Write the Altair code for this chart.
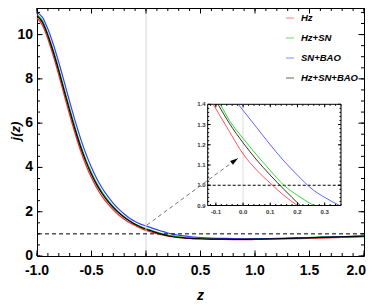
import altair as alt
import pandas as pd

# ---------------- data ----------------
series_names = ["Hz", "Hz+SN", "SN+BAO", "Hz+SN+BAO"]
series_colors = ["#ff2a2a", "#00cc00", "#3a3aff", "#000000"]
series_widths = [1.2, 1.2, 1.2, 1.7]

z_main = [-1.0, -0.95, -0.9, -0.85, -0.8, -0.75, -0.7, -0.65, -0.6, -0.55,
          -0.5, -0.45, -0.4, -0.35, -0.3, -0.25, -0.2, -0.15, -0.1, -0.05,
          0.0, 0.05, 0.1, 0.15, 0.2, 0.25, 0.3, 0.35, 0.4, 0.5,
          0.6, 0.7, 0.8, 0.9, 1.0, 1.2, 1.4, 1.6, 1.8, 2.0]
j_hz = [10.75, 10.42, 9.8, 9.03, 8.17, 7.26, 6.36, 5.52, 4.75, 4.09,
        3.53, 3.06, 2.67, 2.35, 2.08, 1.85, 1.66, 1.5, 1.38, 1.26,
        1.155, 1.08, 1.01, 0.95, 0.9, 0.86, 0.83, 0.805, 0.79, 0.77,
        0.755, 0.745, 0.74, 0.74, 0.745, 0.76, 0.785, 0.81, 0.84, 0.87]
j_hz_sn = [10.9, 10.62, 10.02, 9.28, 8.44, 7.54, 6.65, 5.8, 5.02, 4.34,
           3.76, 3.27, 2.86, 2.52, 2.23, 1.98, 1.77, 1.59, 1.44, 1.33,
           1.235, 1.155, 1.075, 1.0, 0.945, 0.905, 0.87, 0.845, 0.825, 0.795,
           0.78, 0.77, 0.765, 0.765, 0.77, 0.79, 0.82, 0.85, 0.875, 0.9]
j_sn_bao = [11.0, 10.78, 10.25, 9.55, 8.74, 7.86, 6.96, 6.1, 5.3, 4.6,
            4.0, 3.48, 3.05, 2.69, 2.38, 2.12, 1.9, 1.71, 1.56, 1.44,
            1.36, 1.27, 1.19, 1.11, 1.04, 0.98, 0.94, 0.905, 0.875, 0.835,
            0.81, 0.795, 0.785, 0.78, 0.78, 0.795, 0.815, 0.84, 0.865, 0.89]
j_all = [10.85, 10.55, 9.95, 9.2, 8.35, 7.45, 6.55, 5.7, 4.92, 4.25,
         3.68, 3.2, 2.8, 2.47, 2.19, 1.95, 1.75, 1.58, 1.43, 1.31,
         1.21, 1.13, 1.05, 0.98, 0.915, 0.87, 0.84, 0.815, 0.8, 0.78,
         0.765, 0.76, 0.755, 0.755, 0.76, 0.78, 0.81, 0.84, 0.87, 0.9]

# inset curves (zoomed view)
inz_hz = [-0.11, -0.05, 0.0, 0.05, 0.1, 0.15, 0.2]
inj_hz = [1.4, 1.265, 1.155, 1.075, 1.01, 0.95, 0.9]
inz_hz_sn = [-0.083, -0.05, 0.0, 0.05, 0.1, 0.15, 0.2, 0.26]
inj_hz_sn = [1.4, 1.32, 1.232, 1.15, 1.073, 1.0, 0.95, 0.9]
inz_sn_bao = [-0.018, 0.0, 0.05, 0.1, 0.15, 0.2, 0.25, 0.3, 0.355]
inj_sn_bao = [1.4, 1.37, 1.285, 1.2, 1.12, 1.05, 0.985, 0.94, 0.9]
inz_all = [-0.092, -0.05, 0.0, 0.05, 0.1, 0.15, 0.21]
inj_all = [1.4, 1.305, 1.21, 1.125, 1.05, 0.98, 0.9]

# axes / ticks
x_domain = [-1.0, 2.0]
y_domain = [0.0, 11.2]
x_labels = [-1.0, -0.5, 0.0, 0.5, 1.0, 1.5, 2.0]
x_text = ["-1.0", "-0.5", "0.0", "0.5", "1.0", "1.5", "2.0"]
y_labels = [0, 2, 4, 6, 8, 10]
y_text = ["0", "2", "4", "6", "8", "10"]
x_minor = [round(-1.0 + 0.1 * i, 2) for i in range(31)]
y_minor = [round(0.5 * i, 2) for i in range(23)]
x_title = "z"
y_title = "j(z)"

in_x_domain = [-0.13, 0.36]
in_y_domain = [0.9, 1.4]
in_x_labels = [-0.1, 0.0, 0.1, 0.2, 0.3]
in_x_text = ["-0.1", "0.0", "0.1", "0.2", "0.3"]
in_y_labels = [0.9, 1.0, 1.1, 1.2, 1.3, 1.4]
in_y_text = ["0.9", "1.0", "1.1", "1.2", "1.3", "1.4"]
in_x_minor = [round(-0.12 + 0.02 * i, 2) for i in range(25)]
in_y_minor = [round(0.92 + 0.02 * i, 2) for i in range(24)]

ref_j = [1.0]
ref_z = [0.0]
arrow_z = [0.009, 0.844]
arrow_j = [1.40, 4.42]

# ---------------- layout ----------------
W, H = 327, 248
IX0, IX1 = 170.7, 304.0
IYB, IYT = 197.5, 96.3
FONT = "Liberation Sans"

xs = alt.Scale(domain=x_domain, nice=False, zero=False)
ys = alt.Scale(domain=y_domain, nice=False, zero=False)
xi = alt.Scale(domain=in_x_domain, range=[IX0, IX1], nice=False, zero=False)
yi = alt.Scale(domain=in_y_domain, range=[IYB, IYT], nice=False, zero=False)
cscale = alt.Scale(domain=series_names, range=series_colors)

rows = []
for name, vals in zip(series_names, [j_hz, j_hz_sn, j_sn_bao, j_all]):
    for z, j in zip(z_main, vals):
        rows.append({"model": name, "z": z, "j": j})
df = pd.DataFrame(rows)

irows = []
for name, zz, jj in zip(series_names,
                        [inz_hz, inz_hz_sn, inz_sn_bao, inz_all],
                        [inj_hz, inj_hz_sn, inj_sn_bao, inj_all]):
    for z, j in zip(zz, jj):
        irows.append({"model": name, "z": z, "j": j})
idf = pd.DataFrame(irows)

lines = alt.Chart(df).mark_line(interpolate="monotone").encode(
    x=alt.X("z:Q", scale=xs, axis=None),
    y=alt.Y("j:Q", scale=ys, axis=None),
    color=alt.Color("model:N", scale=cscale,
                    legend=alt.Legend(orient="none", legendX=248, legendY=5, title=None,
                                      symbolType="stroke", symbolSize=64,
                                      symbolStrokeWidth=1, symbolOpacity=0.5,
                                      labelFont=FONT, labelFontStyle="italic",
                                      labelFontWeight="bold", labelFontSize=9.5,
                                      labelColor="black", labelOffset=6,
                                      rowPadding=10, padding=0)),
    strokeWidth=alt.StrokeWidth("model:N",
                                scale=alt.Scale(domain=series_names, range=series_widths),
                                legend=None),
)

ref_line = alt.Chart(pd.DataFrame({"j": ref_j})).mark_rule(
    color="black", strokeDash=[4, 3], strokeWidth=1).encode(
    y=alt.Y("j:Q", scale=ys, axis=None))
zero_line = alt.Chart(pd.DataFrame({"z": ref_z})).mark_rule(
    color="#d6d6d6", strokeWidth=1).encode(
    x=alt.X("z:Q", scale=xs, axis=None))

# axis labels and titles as text marks (last x label kept inside the page)
xlab = alt.Chart(pd.DataFrame({"v": x_labels[:-1], "t": x_text[:-1]})).mark_text(
    font=FONT, fontSize=14, fontWeight="bold", color="black", baseline="top").encode(
    x=alt.X("v:Q", scale=xs, axis=None), y=alt.value(H + 8), text="t:N")
xlab_last = alt.Chart(pd.DataFrame({"v": x_labels[-1:], "t": x_text[-1:]})).mark_text(
    font=FONT, fontSize=14, fontWeight="bold", color="black", baseline="top",
    align="right", dx=2).encode(
    x=alt.value(W), y=alt.value(H + 8), text="t:N")
ylab = alt.Chart(pd.DataFrame({"v": y_labels, "t": y_text})).mark_text(
    font=FONT, fontSize=14, fontWeight="bold", color="black", align="right",
    baseline="middle").encode(
    y=alt.Y("v:Q", scale=ys, axis=None), x=alt.value(-4), text="t:N")
xtit = alt.Chart(pd.DataFrame({"t": [x_title]})).mark_text(
    font=FONT, fontSize=14, fontWeight="bold", fontStyle="italic", color="black",
    baseline="middle").encode(
    x=alt.value(W / 2), y=alt.value(H + 40), text="t:N")
ytit = alt.Chart(pd.DataFrame({"t": [y_title]})).mark_text(
    font=FONT, fontSize=13, fontWeight="bold", fontStyle="italic", color="black",
    baseline="middle", angle=270).encode(
    x=alt.value(-21), y=alt.value(H / 2 - 1), text="t:N")


def xticks(vals, L, xscale, ybot, ytop):
    d = pd.DataFrame({"v": vals})
    b = alt.Chart(d).mark_rule(color="black", strokeWidth=1).encode(
        x=alt.X("v:Q", scale=xscale, axis=None),
        y=alt.value(ybot), y2=alt.value(ybot - L))
    t = alt.Chart(d).mark_rule(color="black", strokeWidth=1).encode(
        x=alt.X("v:Q", scale=xscale, axis=None),
        y=alt.value(ytop), y2=alt.value(ytop + L))
    return [b, t]


def yticks(vals, L, yscale, xl, xr):
    d = pd.DataFrame({"v": vals})
    l = alt.Chart(d).mark_rule(color="black", strokeWidth=1).encode(
        y=alt.Y("v:Q", scale=yscale, axis=None),
        x=alt.value(xl), x2=alt.value(xl + L))
    r = alt.Chart(d).mark_rule(color="black", strokeWidth=1).encode(
        y=alt.Y("v:Q", scale=yscale, axis=None),
        x=alt.value(xr), x2=alt.value(xr - L))
    return [l, r]


main_ticks = (xticks(x_minor, 3, xs, H, 0) + xticks(x_labels, 5.5, xs, H, 0)
              + yticks(y_minor, 3, ys, 0, W) + yticks(y_labels, 5.5, ys, 0, W))

main = alt.layer(lines, zero_line, ref_line, xlab, xlab_last, ylab, xtit, ytit, *main_ticks)

# ---------------- inset ----------------
frame = alt.Chart(pd.DataFrame({"x0": [in_x_domain[0]], "x1": [in_x_domain[1]],
                                "y0": [in_y_domain[0]], "y1": [in_y_domain[1]]})).mark_rect(
    fill="white", stroke="black", strokeWidth=1).encode(
    x=alt.X("x0:Q", scale=xi, axis=None), x2="x1:Q",
    y=alt.Y("y0:Q", scale=yi, axis=None), y2="y1:Q")
in_zero = alt.Chart(pd.DataFrame({"z": ref_z, "a": [in_y_domain[0]], "b": [in_y_domain[1]]})).mark_rule(
    color="#dddddd", strokeWidth=1).encode(
    x=alt.X("z:Q", scale=xi, axis=None),
    y=alt.Y("a:Q", scale=yi, axis=None), y2="b:Q")
in_ref = alt.Chart(pd.DataFrame({"j": ref_j, "a": [in_x_domain[0]], "b": [in_x_domain[1]]})).mark_rule(
    color="black", strokeDash=[3, 2], strokeWidth=1).encode(
    y=alt.Y("j:Q", scale=yi, axis=None),
    x=alt.X("a:Q", scale=xi, axis=None), x2="b:Q")
in_lines = alt.Chart(idf).mark_line(interpolate="monotone", strokeWidth=0.8).encode(
    x=alt.X("z:Q", scale=xi, axis=None),
    y=alt.Y("j:Q", scale=yi, axis=None),
    color=alt.Color("model:N", scale=cscale, legend=None))
in_xlab = alt.Chart(pd.DataFrame({"v": in_x_labels, "t": in_x_text})).mark_text(
    font=FONT, fontSize=6, fontWeight="bold", color="#333333", baseline="top", dy=3).encode(
    x=alt.X("v:Q", scale=xi, axis=None), y=alt.value(IYB), text="t:N")
in_ylab = alt.Chart(pd.DataFrame({"v": in_y_labels, "t": in_y_text})).mark_text(
    font=FONT, fontSize=6, fontWeight="bold", color="#333333", align="right",
    baseline="middle", dx=-2).encode(
    y=alt.Y("v:Q", scale=yi, axis=None), x=alt.value(IX0), text="t:N")

in_ticks = (xticks(in_x_minor, 1.5, xi, IYB, IYT) + xticks(in_x_labels, 3, xi, IYB, IYT)
            + yticks(in_y_minor, 1.5, yi, IX0, IX1) + yticks(in_y_labels, 3, yi, IX0, IX1))

inset = alt.layer(frame, in_zero, in_ref, in_lines, in_xlab, in_ylab, *in_ticks)

# ---------------- arrow ----------------
adf = pd.DataFrame({"z0": [arrow_z[0]], "j0": [arrow_j[0]], "z1": [arrow_z[1]], "j1": [arrow_j[1]]})
arrow_line = alt.Chart(adf).mark_rule(color="#777777", strokeDash=[4, 3], strokeWidth=1).encode(
    x=alt.X("z0:Q", scale=xs, axis=None), x2="z1:Q",
    y=alt.Y("j0:Q", scale=ys, axis=None), y2="j1:Q")
arrow_head = alt.Chart(adf).mark_point(
    shape="M0,0L-0.6,2L0.6,2Z", filled=True, color="black", opacity=1,
    size=64, angle=54).encode(
    x=alt.X("z1:Q", scale=xs, axis=None),
    y=alt.Y("j1:Q", scale=ys, axis=None))
arrow = alt.layer(arrow_line, arrow_head)

chart = alt.layer(main, inset, arrow).resolve_scale(
    x="independent", y="independent"
).properties(
    width=W, height=H,
    padding={"left": 29, "top": 0, "right": 2, "bottom": 46},
    autosize=alt.AutoSizeParams(type="none"),
).configure_view(stroke="black", strokeWidth=1)

chart.save("out.html", embed_options={"renderer": "svg", "actions": False})
